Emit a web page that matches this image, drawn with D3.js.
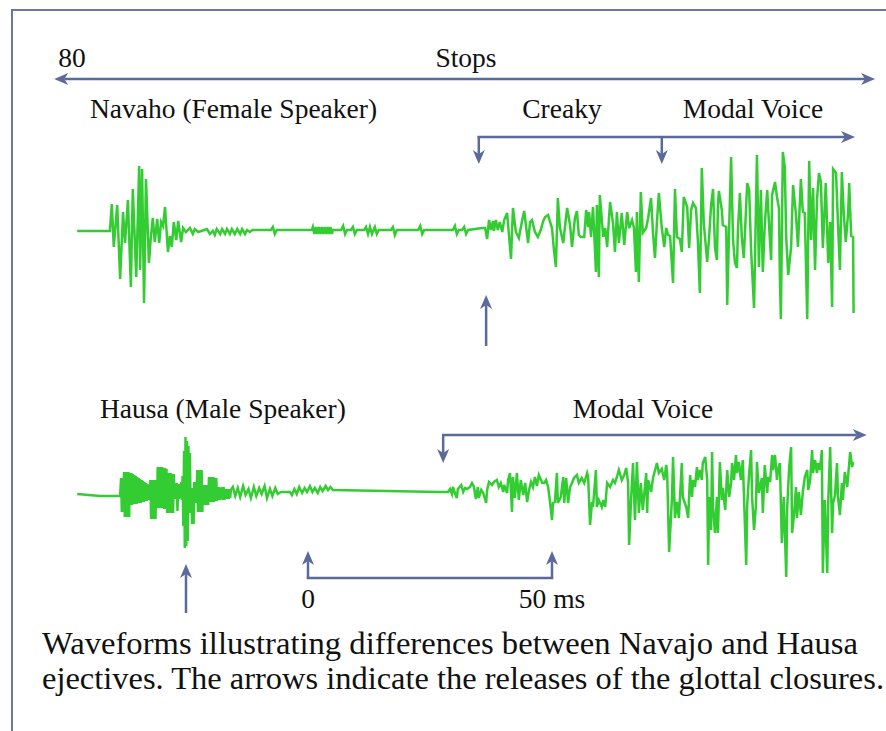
<!DOCTYPE html>
<html>
<head>
<meta charset="utf-8">
<script src="https://cdn.jsdelivr.net/npm/d3@7"></script>
<style>
  html, body { margin: 0; padding: 0; background: #fff; }
  svg { display: block; }
</style>
</head>
<body>
<div id="chart"></div>
<script>
// waveform samples: [time (ms), amplitude (arbitrary units, + = up)]
const navajoWave = [
  [-47.3, 0], [-40.6, 0],
  [-40.2, 27], [-39.8, -16], [-39.1, 26], [-38.5, -48], [-37.9, 19], [-37.5, -12], [-36.9, 31], [-36.3, -56],
  [-35.9, 42], [-35.2, -46], [-34.8, 28], [-34.6, 65], [-34.4, -39], [-34.0, 62], [-33.6, -72], [-33.2, 52],
  [-32.6, -32], [-32.2, -6], [-31.8, 13], [-31.4, -11], [-30.9, 12], [-30.5, -12], [-30.1, 9], [-29.7, 5],
  [-29.3, 24], [-28.7, -21], [-28.3, -5], [-27.9, -16], [-27.5, 9], [-27.0, -9], [-26.6, 10], [-26.0, -11],
  [-25.6, 3], [-25.0, -1], [-24.2, 3], [-23.6, -3], [-23.2, 2], [-22.5, -1], [-20.7, 2], [-20.1, -3],
  [-19.5, 0], [-19.1, -4], [-18.7, 2], [-18.0, -3], [-17.6, 2], [-17.0, -3], [-16.6, 2], [-16.0, -3],
  [-15.6, 2], [-15.0, -3], [-14.5, 2], [-13.9, -3], [-13.5, 2], [-12.9, -3], [-12.5, 1], [-11.9, -1],
  [-11.4, 1], [-7.6, 1], [-7.2, 4], [-6.8, -3], [-6.4, 1],
  [0.8, 1], [1.0, 4], [1.3, -3], [1.6, 4], [1.9, -3], [2.2, 4], [2.5, -3], [2.8, 4], [3.1, -3], [3.4, 4],
  [3.7, -3], [4.0, 4], [4.3, -3], [4.6, 4], [4.9, -3], [5.1, 1],
  [6.8, 1], [7.2, 5], [7.6, -3], [8.0, 1], [8.8, 1], [9.2, 4], [9.6, -3], [10.0, 1],
  [11.5, 1], [11.9, 4], [12.3, -3], [12.7, 4], [13.1, -3], [13.7, 4], [14.1, -3], [14.5, 1],
  [17.0, 1], [17.4, 4], [17.8, -4], [18.2, 1], [22.6, 1], [23.0, 5], [23.4, -3], [23.8, 1],
  [29.7, 1], [30.1, 5], [30.5, -3], [30.9, 1], [31.6, 1], [32.0, 4], [32.4, -3], [32.8, 1],
  [35.7, 3], [36.3, 3], [36.7, -8], [37.1, 11], [37.5, 1], [37.9, 10], [38.1, 0], [38.5, 11], [38.9, 1],
  [39.3, 9], [39.8, -1], [40.2, 11], [40.8, 18], [41.6, -28], [42.0, 23], [42.6, -1], [43.2, -7], [43.9, 11],
  [44.3, 20], [45.1, -12], [45.5, 9], [45.9, 11], [46.5, -1], [47.1, -6], [47.7, 1], [48.2, 10], [48.6, 14],
  [49.2, 16], [49.6, 9], [50.0, 3], [50.4, -19], [50.8, -36], [51.2, 33], [51.6, 4], [52.3, -12], [52.7, 6],
  [53.1, 23], [53.7, 6], [54.1, -16], [54.7, 13], [55.1, 20], [55.5, -4], [55.9, -6], [56.6, -6], [57.0, 21],
  [57.4, 4], [57.6, 19], [58.0, -6], [58.4, 24], [58.6, 4], [59.0, -41], [59.2, 26], [59.6, -46], [59.8, 36],
  [60.5, -6], [60.9, 3], [61.3, -16], [61.9, 29], [62.5, 8], [62.9, -21], [63.3, 19], [63.7, -12], [64.3, 18],
  [64.8, -14], [65.4, 19], [65.8, 3], [66.4, 11], [66.8, 3], [67.2, -41], [67.4, 19], [67.8, -51], [68.2, 39],
  [68.6, -2], [69.3, 3], [69.7, 13], [70.3, 33], [70.7, -2], [71.1, -27], [71.5, 9], [71.9, 38], [72.5, 3],
  [73.0, -16], [73.4, 3], [73.8, -4], [74.2, -5], [74.8, -52], [75.2, 42], [75.6, -6], [76.2, -8], [76.6, -21],
  [77.0, 34], [77.7, 24], [78.1, -17], [78.5, 21], [78.9, 28], [79.5, 23], [79.9, -11], [80.3, -62], [80.7, 63],
  [81.1, 8], [81.8, -31], [82.2, -6], [82.6, 26], [83.0, 42], [83.4, -17], [83.8, -29], [84.0, 26], [84.2, 40],
  [84.8, 21], [85.0, 6], [85.7, 4], [85.9, -74], [86.3, 3], [86.7, 74], [87.1, -9], [87.5, -32], [87.9, -37],
  [88.1, 1], [88.5, 38], [88.9, -7], [89.3, -27], [89.8, 26], [90.0, 48], [90.4, 41], [90.8, -19], [91.4, -77],
  [92.0, 76], [92.4, -36], [92.8, 41], [93.2, -41], [93.6, 6], [94.1, 41], [94.5, 4], [94.9, -29], [95.1, 36],
  [95.7, 49], [96.1, 34], [96.5, 23], [96.7, -47], [96.9, -88], [97.3, 79], [97.7, 64], [98.0, -7], [98.4, -44],
  [99.0, -16], [99.4, 46], [100.0, 16], [100.4, -16], [101.0, 52], [101.4, 19], [101.8, 18], [102.3, -88],
  [102.7, 70], [103.1, -9], [103.5, 43], [103.9, -39], [104.3, 31], [104.7, 58], [105.1, 49], [105.5, -17],
  [106.1, 48], [106.6, -32], [107.0, 9], [107.4, -76], [107.6, 62], [108.2, 58], [108.6, 8], [109.0, -39],
  [109.4, 59], [109.8, 16], [110.2, -11], [110.7, 19], [110.9, 48], [111.3, -5], [111.7, -6], [111.8, -82]
]

const hausaWave = [
  [-47.3, 2], [-42.6, 0], [-38.5, 0],
  [-38.30, 18], [-38.15, -16], [-38.00, 18], [-37.85, -16], [-37.70, 24], [-37.55, -21], [-37.40, 24],
  [-37.25, -21], [-37.10, 24], [-36.95, -21], [-36.80, 24], [-36.65, -21], [-36.50, 23], [-36.35, -9],
  [-36.20, 23], [-36.05, -9], [-35.90, 22], [-35.75, -8], [-35.60, 21], [-35.45, -8], [-35.30, 20],
  [-35.15, -8], [-35.00, 19], [-34.85, -7], [-34.70, 18], [-34.55, -7], [-34.40, 17], [-34.25, -7],
  [-34.10, 16], [-33.95, -6], [-33.80, 15], [-33.65, -6], [-33.50, 14], [-33.35, -5], [-33.20, 13],
  [-33.05, -5], [-32.90, 12], [-32.75, -4], [-32.60, 11], [-32.45, -4], [-32.30, 16], [-32.15, -23],
  [-32.00, 16], [-31.85, -23], [-31.70, 16], [-31.55, -23], [-31.40, 16], [-31.25, -23], [-31.10, 16],
  [-30.95, -12], [-30.80, 29], [-30.65, -12], [-30.50, 29], [-30.35, -12], [-30.20, 29], [-30.05, -12],
  [-29.90, 29], [-29.75, -12], [-29.60, 28], [-29.45, -13], [-29.30, 28], [-29.15, -13], [-29.00, 27],
  [-28.85, -17], [-28.70, 23], [-28.55, -17], [-28.40, 23], [-28.25, -17], [-28.10, 23], [-27.95, -17],
  [-27.80, 22], [-27.65, -17], [-27.50, 22], [-27.35, -3], [-27.20, 13], [-27.05, -3], [-26.90, 13],
  [-26.75, -15], [-26.60, 12], [-26.45, -3], [-26.30, 12], [-26.15, -2], [-26.00, 14], [-25.85, -4],
  [-25.70, 20], [-25.55, -30], [-25.40, 45], [-25.25, -52], [-25.10, 59], [-24.95, -50], [-24.80, 55],
  [-24.65, -45], [-24.50, 50], [-24.35, -17], [-24.20, 43], [-24.05, -17], [-23.90, 8], [-23.75, -28],
  [-23.60, 8], [-23.45, -28], [-23.30, 14], [-23.15, -7], [-23.00, 14], [-22.85, -7], [-22.70, 26],
  [-22.55, -16], [-22.40, 26], [-22.25, -16], [-22.10, 26], [-21.95, -16], [-21.80, 26], [-21.65, -16],
  [-21.50, 11], [-21.35, -9], [-21.20, 11], [-21.05, -9], [-20.90, 11], [-20.75, -9], [-20.60, 11],
  [-20.45, -9], [-20.30, 19], [-20.15, -6], [-20.00, 19], [-19.85, -6], [-19.70, 19], [-19.55, -6],
  [-19.40, 19], [-19.25, -6], [-19.10, 18], [-18.95, -5], [-18.80, 18], [-18.65, -5], [-18.50, 9],
  [-18.35, -4], [-18.20, 9], [-18.05, -4], [-17.90, 8], [-17.75, -3], [-17.60, 9], [-17.45, -4],
  [-17.30, 9], [-17.15, -4], [-17.00, 7], [-16.85, -3], [-16.70, 7], [-16.55, -3], [-16.40, 7],
  [-16.25, -3], [-16.10, 7], [-15.95, -2], [-15.80, 6],
  [-15.4, 9], [-14.9, 0], [-14.4, 8], [-13.9, -1], [-13.3, 10], [-12.8, 1], [-12.2, 7], [-11.7, -2],
  [-11.1, 9], [-10.6, 0], [-10.0, 8], [-9.5, 2], [-8.9, 10], [-8.4, -2], [-7.8, 7], [-7.3, 0], [-6.7, 8],
  [-6.2, 2], [-5.5, 4], [-3.7, 4],
  [-3.3, 1], [-2.8, 7], [-2.3, 2], [-1.8, 9], [-1.2, 3], [-0.7, 8], [-0.2, 4], [0.4, 10], [0.9, 4], [1.4, 8],
  [2.0, 3], [2.5, 9], [3.0, 5], [3.6, 10], [4.1, 6], [4.6, 9], [5.1, 6],
  [27.0, 4], [28.7, 4], [29.1, 7], [29.5, 2], [29.7, 9], [30.1, 3], [30.5, -2], [30.7, 7], [31.4, 11],
  [31.8, 4], [32.2, 8], [32.6, 7], [33.2, 9], [33.6, 13], [34.0, 9], [34.4, -3], [34.8, 9], [35.0, -2],
  [35.5, 6], [35.9, 3], [36.5, -7], [36.7, 6], [37.1, 14], [37.7, 11], [38.1, 14], [38.7, 16], [39.1, 9],
  [39.5, 13], [40.0, 4], [40.2, 11], [40.8, 3], [41.0, 16], [41.4, 23], [41.8, -16], [42.0, 19], [42.4, -2],
  [42.8, 23], [43.2, -4], [43.6, 16], [44.1, 1], [44.5, 13], [44.9, -6], [45.3, 6], [45.7, 14], [46.1, 9],
  [46.5, 19], [46.9, 10], [47.3, 21], [48.0, 13], [48.4, 13], [48.8, 16], [49.2, 9], [49.6, -6], [50.0, -24],
  [50.2, -7], [50.6, -6], [51.0, 23], [51.2, -7], [51.8, -1], [52.3, 19], [52.5, -7], [52.9, 18], [53.3, -7],
  [53.7, 9], [54.1, 13], [54.5, 18], [55.1, 21], [55.5, 13], [56.1, 18], [56.6, 13], [57.2, 23], [57.4, 19],
  [57.8, -29], [58.2, -6], [58.4, -11], [59.0, 26], [59.2, -11], [59.6, -4], [60.2, -11], [60.5, -4],
  [60.9, -11], [61.3, 13], [61.9, 9], [62.5, 16], [62.9, 13], [63.3, 19], [63.7, 26], [64.3, 16], [64.8, 21],
  [65.2, 28], [65.6, 13], [65.8, -49], [66.2, -4], [66.6, 33], [67.0, -24], [67.4, 34], [67.8, -17],
  [68.2, 13], [68.6, -14], [69.3, 23], [69.5, -17], [69.7, 16], [70.3, 4], [70.7, 18], [71.5, 33], [71.9, 23],
  [72.5, 27], [73.0, 16], [73.4, 31], [73.6, 23], [74.0, -56], [74.6, -1], [74.8, 39], [75.2, -22], [75.6, -6],
  [76.0, -22], [76.6, 33], [76.8, -1], [77.5, -11], [77.9, -22], [78.3, 21], [78.7, -1], [78.9, 16], [79.3, 9],
  [79.7, 29], [79.9, 16], [80.3, 26], [80.7, 16], [80.9, 33], [81.4, 39], [81.8, 16], [82.0, -69], [82.2, -1],
  [82.6, -34], [82.8, 44], [83.0, -11], [83.4, -37], [83.8, -1], [84.0, -37], [84.4, 34], [84.8, -4], [85.0, 8],
  [85.5, -14], [85.9, 26], [86.3, -1], [86.7, 13], [86.9, 33], [87.3, 16], [87.7, 41], [87.9, 23], [88.3, 34],
  [88.7, 16], [89.1, 36], [89.3, 6], [89.8, -69], [90.0, -9], [90.4, 23], [90.8, 46], [91.0, -1], [91.4, -34],
  [91.8, -9], [92.0, 34], [92.4, 3], [93.0, 18], [93.2, -17], [93.6, 31], [94.1, 3], [94.3, 19], [94.7, 14],
  [95.1, 41], [95.3, 26], [95.7, 41], [96.1, 16], [96.3, 26], [96.7, 33], [97.1, -47], [97.5, -1], [98.0, -81],
  [98.2, -11], [98.6, 29], [99.0, 49], [99.2, -37], [99.6, -19], [100.0, 9], [100.2, -22], [100.6, 4],
  [101.0, -19], [101.4, 4], [101.8, 19], [102.3, 26], [102.5, 6], [102.9, 16], [103.3, 46], [103.5, 23],
  [103.9, 36], [104.3, 23], [104.5, 33], [104.9, 26], [105.3, 46], [105.5, -77], [105.9, -4], [106.4, -77],
  [106.6, -7], [107.0, 49], [107.4, -37], [107.6, -7], [108.0, 1], [108.4, 33], [108.6, -1], [109.0, -19],
  [109.4, 13], [109.6, -4], [110.0, 24], [110.5, 9], [110.7, 21], [111.1, 44], [111.5, 29], [111.7, 34]
]

// annotation times (ms)
const stopsSpan = [-52.0, 116.2]
const navajoBracket = [35.0, 72.5, 112.1] // creaky start, modal start, end
const navajoRelease = 36.5
const hausaBracket = [27.7, 114.5]
const hausaRelease = -25.0
const scaleTicks = [0, 50]
const scaleLabels = ['0', '50 ms']

const captionLines = [
  'Waveforms illustrating differences between Navajo and Hausa',
  'ejectives. The arrows indicate the releases of the glottal closures.'
]

const width = 886
const height = 731
const waveColor = '#33cc33'
const arrowColor = '#5a6a9a'
const frameColor = '#6b77a8'
const font = '"Liberation Serif", "Times New Roman", serif'

const svg = d3.select('#chart')
  .append('svg')
  .attr('width', width)
  .attr('height', height)
  .style('font-family', font)

svg.append('rect').attr('width', width).attr('height', height).attr('fill', '#fff')

// frame (only top and left edges are visible)
svg.append('path')
  .attr('d', `M12,${height} L12,10 L${width},10`)
  .attr('fill', 'none')
  .attr('stroke', frameColor)
  .attr('stroke-width', 2)

const x = d3.scaleLinear().domain([0, 50]).range([308, 552])
const yNav = d3.scaleLinear().domain([-100, 100]).range([331, 131])
const yHau = d3.scaleLinear().domain([-100, 100]).range([596, 396])

const arrow = (x1, y1, x2, y2, both = false) => {
  const len = 14
  const half = 6
  const head = (tx, ty, ux, uy) => {
    const bx = tx - ux * len
    const by = ty - uy * len
    const nx = tx - ux * len * 0.72
    const ny = ty - uy * len * 0.72
    svg.append('path')
      .attr('d', `M${tx},${ty}L${bx - uy * half},${by + ux * half}L${nx},${ny}L${bx + uy * half},${by - ux * half}Z`)
      .attr('fill', arrowColor)
  }
  const dx = x2 - x1
  const dy = y2 - y1
  const L = Math.hypot(dx, dy)
  const ux = dx / L
  const uy = dy / L
  svg.append('line')
    .attr('x1', both ? x1 + ux * len * 0.72 : x1)
    .attr('y1', both ? y1 + uy * len * 0.72 : y1)
    .attr('x2', x2 - ux * len * 0.72)
    .attr('y2', y2 - uy * len * 0.72)
    .attr('stroke', arrowColor)
    .attr('stroke-width', 2.5)
  head(x2, y2, ux, uy)
  if (both) head(x1, y1, -ux, -uy)
}

const plainLine = (x1, y1, x2, y2) => {
  svg.append('line')
    .attr('x1', x1).attr('y1', y1).attr('x2', x2).attr('y2', y2)
    .attr('stroke', arrowColor)
    .attr('stroke-width', 2.5)
}

const label = (tx, ty, text, anchor = 'start', size = 27.5) => {
  svg.append('text')
    .attr('x', tx)
    .attr('y', ty)
    .attr('text-anchor', anchor)
    .attr('font-size', size)
    .attr('fill', '#111')
    .text(text)
}

// stops double arrow
arrow(x(stopsSpan[0]), 79, x(stopsSpan[1]), 79, true)
label(x(stopsSpan[0]) + 4, 67, '80')
label(466, 67, 'Stops', 'middle')

// navajo labels and brackets
label(90, 118, 'Navaho (Female Speaker)')
label(562, 118, 'Creaky', 'middle')
label(753, 118, 'Modal Voice', 'middle')
arrow(x(navajoBracket[0]) - 1.2, 137, x(navajoBracket[2]), 137)
arrow(x(navajoBracket[0]), 136, x(navajoBracket[0]), 164)
arrow(x(navajoBracket[1]), 136, x(navajoBracket[1]), 164)
arrow(x(navajoRelease), 346, x(navajoRelease), 295)

// hausa labels and brackets
label(100, 418, 'Hausa (Male Speaker)')
label(643, 418, 'Modal Voice', 'middle')
arrow(x(hausaBracket[0]) - 1.2, 435, x(hausaBracket[1]), 435)
arrow(x(hausaBracket[0]), 434, x(hausaBracket[0]), 463)
arrow(x(hausaRelease), 613, x(hausaRelease), 564)

// 50 ms scale
plainLine(x(scaleTicks[0]) - 1.2, 578, x(scaleTicks[1]) + 1.2, 578)
scaleTicks.forEach((t, i) => {
  arrow(x(t), 579, x(t), 551)
  label(x(t), 608, scaleLabels[i], 'middle')
})

// waveforms
const navLine = d3.line().x((d) => x(d[0])).y((d) => yNav(d[1]))
const hauLine = d3.line().x((d) => x(d[0])).y((d) => yHau(d[1]))

svg.append('path')
  .datum(navajoWave)
  .attr('d', navLine)
  .attr('fill', 'none')
  .attr('stroke', waveColor)
  .attr('stroke-width', 2.5)

svg.append('path')
  .datum(hausaWave)
  .attr('d', hauLine)
  .attr('fill', 'none')
  .attr('stroke', waveColor)
  .attr('stroke-width', 2.5)

// caption
const captionLengths = [816, 842]
captionLines.forEach((line, i) => {
  svg.append('text')
    .attr('x', 42)
    .attr('y', 654 + i * 35)
    .attr('font-size', 32)
    .attr('fill', '#111')
    .attr('textLength', captionLengths[i])
    .attr('lengthAdjust', 'spacingAndGlyphs')
    .text(line)
})
</script>
</body>
</html>
